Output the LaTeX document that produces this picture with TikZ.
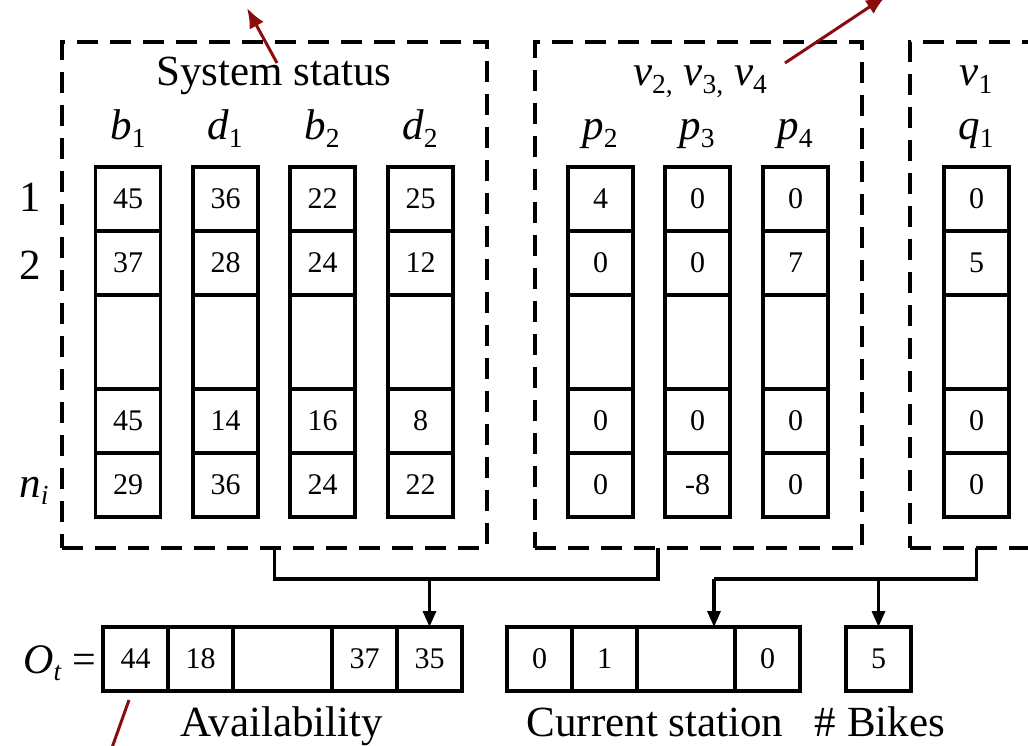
\documentclass[tikz,border=0pt]{standalone}
\usepackage{fontspec}
\setmainfont{Liberation Serif}
\usetikzlibrary{positioning, arrows.meta}

\definecolor{arrowred}{RGB}{140,12,14}
\newcommand{\varsub}[2]{\textit{#1}\raisebox{-0.17em}{\scalebox{0.64}{#2}}}

\tikzset{
  cell/.style={draw, line width=3.2pt, minimum width=65pt, minimum height=64pt,
    inner sep=0pt, outer sep=0pt, font=\fontsize{30}{34}\selectfont},
  gapcell/.style={cell, minimum height=94pt},
  widecell/.style={cell, minimum width=99pt},
  group/.style={draw, line width=3.2pt, dash pattern=on 21pt off 12pt,
    inner sep=0pt, outer sep=0pt},
  title/.style={inner sep=0pt, anchor=base, font=\fontsize{43}{48}\selectfont},
  link/.style={line width=3.2pt},
  feed/.style={link, -{Triangle[length=16pt,width=13pt]}},
  hint/.style={line width=3pt, draw=arrowred, -{Latex[length=20pt,width=16pt]}},
}

\begin{document}
\begin{tikzpicture}[x=1pt, y=-1pt]
  %tikz  observation O_t
    \clip (0,0) rectangle (1028,746);

    % dashed groups
    \node[group, minimum width=425pt, minimum height=506pt] (status) at (274.5,295) {};
    \node[group, minimum width=327pt, minimum height=506pt] (others) at (698.5,295) {};
    \node[group, minimum width=160pt, minimum height=506pt] (single) at (990,295) {};

    \node[title] (t-status) at (274,86) {System status};
    \node[title] (t-others) at (700,86) {\varsub{v}{2,} \varsub{v}{3,} \varsub{v}{4}};
    \node[title] (t-single) at (976,86) {\varsub{v}{1}};

    \node[title] (h-b1) at (128,140) {\varsub{b}{1}};
    \node[title] (h-d1) at (225,140) {\varsub{d}{1}};
    \node[title] (h-b2) at (322,140) {\varsub{b}{2}};
    \node[title] (h-d2) at (420,140) {\varsub{d}{2}};
    \node[title] (h-p2) at (600,140) {\varsub{p}{2}};
    \node[title] (h-p3) at (697,140) {\varsub{p}{3}};
    \node[title] (h-p4) at (795,140) {\varsub{p}{4}};
    \node[title] (h-q1) at (976,140) {\varsub{q}{1}};

    \node[title] (row-1) at (30,212) {1};
    \node[title] (row-2) at (30,279) {2};
    \node[title] (row-n) at (34,497) {\varsub{n}{\textit{i}}};

    % columns of the system status
    \node[cell] (b1-1) at (128,199) {45};
    \node[cell, below=0pt of b1-1] (b1-2) {37};
    \node[gapcell, below=0pt of b1-2] (b1-3) {};
    \node[cell, below=0pt of b1-3] (b1-4) {45};
    \node[cell, below=0pt of b1-4] (b1-5) {29};

    \node[cell] (d1-1) at (225.5,199) {36};
    \node[cell, below=0pt of d1-1] (d1-2) {28};
    \node[gapcell, below=0pt of d1-2] (d1-3) {};
    \node[cell, below=0pt of d1-3] (d1-4) {14};
    \node[cell, below=0pt of d1-4] (d1-5) {36};

    \node[cell] (b2-1) at (322.5,199) {22};
    \node[cell, below=0pt of b2-1] (b2-2) {24};
    \node[gapcell, below=0pt of b2-2] (b2-3) {};
    \node[cell, below=0pt of b2-3] (b2-4) {16};
    \node[cell, below=0pt of b2-4] (b2-5) {24};

    \node[cell] (d2-1) at (420.5,199) {25};
    \node[cell, below=0pt of d2-1] (d2-2) {12};
    \node[gapcell, below=0pt of d2-2] (d2-3) {};
    \node[cell, below=0pt of d2-3] (d2-4) {8};
    \node[cell, below=0pt of d2-4] (d2-5) {22};

    % columns of the other stations
    \node[cell] (p2-1) at (600.5,199) {4};
    \node[cell, below=0pt of p2-1] (p2-2) {0};
    \node[gapcell, below=0pt of p2-2] (p2-3) {};
    \node[cell, below=0pt of p2-3] (p2-4) {0};
    \node[cell, below=0pt of p2-4] (p2-5) {0};

    \node[cell] (p3-1) at (697.5,199) {0};
    \node[cell, below=0pt of p3-1] (p3-2) {0};
    \node[gapcell, below=0pt of p3-2] (p3-3) {};
    \node[cell, below=0pt of p3-3] (p3-4) {0};
    \node[cell, below=0pt of p3-4] (p3-5) {-8};

    \node[cell] (p4-1) at (795.5,199) {0};
    \node[cell, below=0pt of p4-1] (p4-2) {7};
    \node[gapcell, below=0pt of p4-2] (p4-3) {};
    \node[cell, below=0pt of p4-3] (p4-4) {0};
    \node[cell, below=0pt of p4-4] (p4-5) {0};

    \node[cell] (q1-1) at (976.5,199) {0};
    \node[cell, below=0pt of q1-1] (q1-2) {5};
    \node[gapcell, below=0pt of q1-2] (q1-3) {};
    \node[cell, below=0pt of q1-3] (q1-4) {0};
    \node[cell, below=0pt of q1-4] (q1-5) {0};

    % observation vector
    \node[cell] (o1) at (135.5,659) {44};
    \node[cell, right=0pt of o1] (o2) {18};
    \node[widecell, right=0pt of o2] (o3) {};
    \node[cell, right=0pt of o3] (o4) {37};
    \node[cell, right=0pt of o4] (o5) {35};

    \node[cell] (c1) at (539.5,659) {0};
    \node[cell, right=0pt of c1] (c2) {1};
    \node[widecell, minimum width=98pt, right=0pt of c2] (c3) {};
    \node[cell, right=0pt of c3] (c4) {0};

    \node[cell] (bk) at (878.5,659) {5};

    \node[title, anchor=base east, font=\fontsize{42}{46}\selectfont] (ot) at (96,673)
      {\varsub{O}{\textit{t}} =};
    \node[title] (l-avail) at (282,736) {Availability};
    \node[title] (l-station) at (655,736) {Current station};
    \node[title] (l-bikes) at (880,736) {\# Bikes};

    % connectors
    \coordinate (s-tap) at (658,548);
    \coordinate (bus1) at (274.5,579);
    \coordinate (bus2) at (976.5,579);
    \coordinate (cs-in) at (714,627);
    \draw[link] (status.south) -- (bus1) -| (s-tap);
    \draw[feed] (bus1 -| o5) -- (o5.north);
    \draw[link] (q1-5 |- single.south) -- (bus2) -- (bus2 -| cs-in);
    \draw[feed] (bus2 -| cs-in) -- (cs-in);
    \draw[feed] (bus2 -| bk) -- (bk.north);

    % pointers to the outside
    \coordinate (r1s) at (277,63);
    \coordinate (r1e) at (247,8);
    \coordinate (r2s) at (785,63);
    \coordinate (r2e) at (886,-4);
    \coordinate (r3s) at (129,700);
    \coordinate (r3e) at (104,770);
    \draw[hint] (r1s) -- (r1e);
    \draw[hint] (r2s) -- (r2e);
    \draw[line width=3pt, draw=arrowred] (r3s) -- (r3e);

  \end{tikzpicture}
\end{document}
